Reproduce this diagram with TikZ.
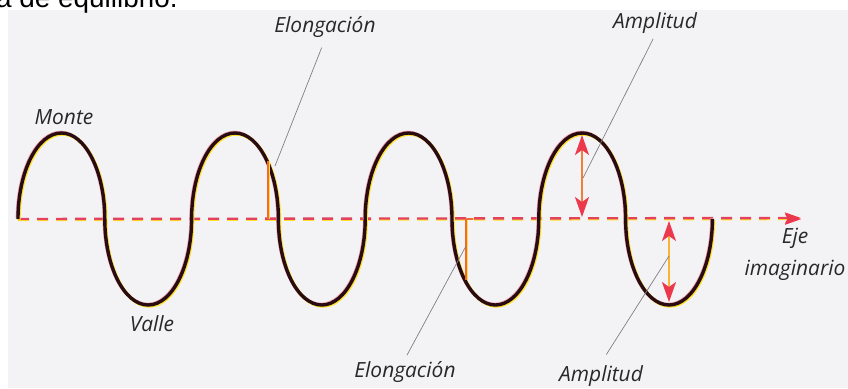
\documentclass[tikz,border=0pt]{standalone}
\usepackage{fontspec}
\newfontfamily\owsans{Open Sans}
\newfontfamily\owarial{Liberation Sans}
\usepackage{xcolor}
\definecolor{owInk}{RGB}{40,40,42}
\definecolor{owWave}{RGB}{40,12,18}
\definecolor{owRed}{RGB}{236,56,76}
\definecolor{owOrange}{RGB}{242,126,56}
\definecolor{owYellow}{RGB}{255,226,40}
\definecolor{owDash}{RGB}{226,66,96}
\definecolor{owLead}{RGB}{128,128,132}
\definecolor{owPaper}{RGB}{243,243,245}
\usepackage{tikz}
\usetikzlibrary{arrows.meta}
\tikzset{
  ow-label/.style={font=\owsans\itshape\fontsize{21}{32}\selectfont,text=owInk,inner sep=2bp},
  ow-leader/.style={draw=owLead,line width=0.7bp},
  ow-wave/.style={draw=owWave,line width=3.4bp,
    preaction={draw=owDash!50,line width=3.4bp,transform canvas={shift={(-0.6bp,0.6bp)}}},
    preaction={draw=owYellow,line width=3.4bp,transform canvas={shift={(1bp,-1bp)}}}},
  ow-axis/.style={draw=owDash,line width=2.4bp,dash pattern=on 11bp off 8bp,
    -{Stealth[length=16bp,width=11bp,inset=3bp,color=owRed]},
    preaction={draw=owYellow,line width=2bp,dash pattern=on 11bp off 8bp,
      transform canvas={yshift=-1.2bp}}},
  ow-elong/.style={draw=owOrange!70!owRed,line width=1.6bp,
    preaction={draw=owYellow,line width=1.6bp,transform canvas={xshift=1bp}}},
  ow-amp/.style={draw=owOrange,line width=2bp,
    >={Stealth[length=20bp,width=14bp,inset=5bp,color=owRed]},<->},
}

\begin{document}
\begin{tikzpicture}[x=1bp,y=-1bp]
  \useasboundingbox (0,0) rectangle (848,388);
  % page and scanned sheet
  \fill[white] (0,0) rectangle (848,388);
  \fill[owPaper] (8,10) rectangle (848,388);
  \node[anchor=base west,inner sep=0pt,font=\owarial\fontsize{28}{30}\selectfont] (caption) at (-4,7) {a de equilibrio.};

  % axis
  \coordinate (o) at (18,219);
  \coordinate (tip) at (801,218);
  \draw[ow-axis] (o) -- (tip);

  % wave (half ellipses)
  \draw[ow-wave] (o) \foreach \k in {1,...,4}{
    arc[start angle=180,end angle=0,x radius=43.4bp,y radius=86bp]
    arc[start angle=180,end angle=360,x radius=43.4bp,y radius=86bp]};

  % elongation marks
  \coordinate (e1a) at (268,219);
  \coordinate (e1b) at (268,161);
  \draw[ow-elong] (e1a) -- (e1b);
  \coordinate (e2c) at (473,219);
  \coordinate (e2a) at (466,219);
  \coordinate (e2b) at (466,280);
  \draw[ow-elong] (e2c) -- (e2a) -- (e2b);

  % amplitude arrows
  \coordinate (a1a) at (582,135);
  \coordinate (a1b) at (582,217);
  \draw[ow-amp] (a1a) -- (a1b);
  \coordinate (a2a) at (669,221);
  \coordinate (a2b) at (669,302);
  \draw[ow-amp,draw=owYellow!55!owOrange] (a2a) -- (a2b);

  % labels
  \node[ow-label,anchor=base] (monte) at (64,124) {Monte};
  \node[ow-label,anchor=base] (valle) at (152,331) {Valle};
  \node[ow-label,anchor=base] (elongT) at (325,32) {Elongación};
  \node[ow-label,anchor=base] (elongB) at (405,377) {Elongación};
  \node[ow-label,anchor=base] (amplT) at (655,28) {Amplitud};
  \node[ow-label,anchor=base] (amplB) at (601,381) {Amplitud};
  \node[ow-label,anchor=base,align=center] (eje) at (795,275) {Eje\\imaginario};

  % leader lines
  \coordinate (l1) at (275,166);
  \coordinate (l2) at (466,246);
  \coordinate (l3) at (583,178);
  \coordinate (l4) at (669,256);
  \draw[ow-leader,shorten <=9bp] (elongT.south) -- (l1);
  \draw[ow-leader,shorten <=4bp] (elongB.north) -- (l2);
  \draw[ow-leader,shorten <=4bp] (amplT.south) -- (l3);
  \draw[ow-leader,shorten <=10bp] (amplB.north) -- (l4);
\end{tikzpicture}
\end{document}
